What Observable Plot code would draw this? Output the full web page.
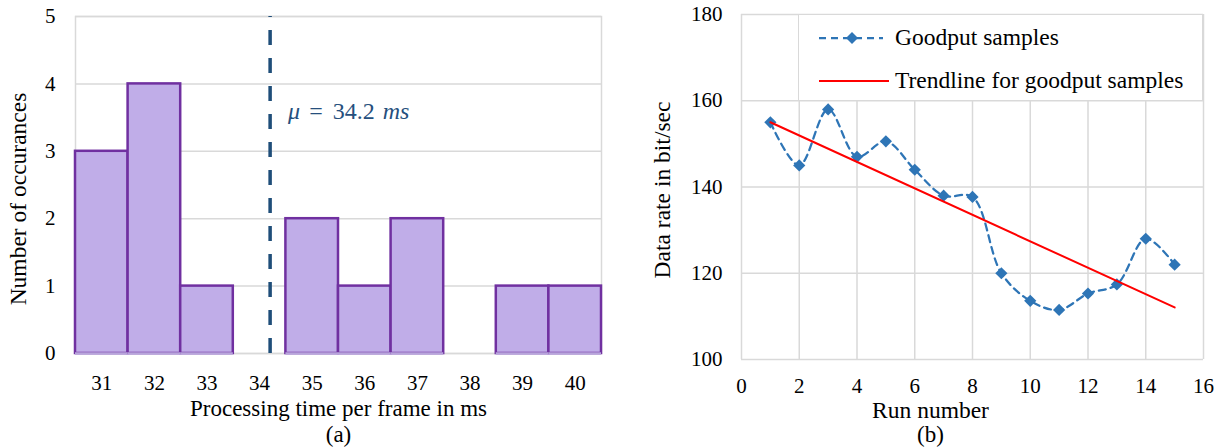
<!DOCTYPE html>
<html>
<head>
<meta charset="utf-8">
<script src="https://cdn.jsdelivr.net/npm/d3@7"></script>
<script src="https://cdn.jsdelivr.net/npm/@observablehq/plot@0.6"></script>
<style>
  html, body { margin: 0; padding: 0; background: #fff; }
  #wrap { position: relative; width: 1218px; height: 448px; overflow: hidden; font-family: "Liberation Serif", serif; }
  #wrap svg, #wrap svg text { font-family: "Liberation Serif", serif; }
  #wrap svg g[aria-label$="tick label"] { font-size: 21px; font-family: "Liberation Serif", serif; font-variant: normal; }
  #left, #right { position: absolute; top: 0; }
  #left { left: 0; }
  #right { left: 640px; }
  #legend { position: absolute; left: 798px; top: 14px; width: 405px; height: 87px; box-sizing: border-box;
            background: #fff; border: 1.5px solid #d9d9d9; }
  #legend svg { position: absolute; left: 0; top: 0; }
  .lg { position: absolute; left: 96px; font-size: 23.5px; line-height: 1; white-space: nowrap; color: #000; }
</style>
</head>
<body>
<div id="wrap">
  <div id="left"></div>
  <div id="right"></div>
  <div id="legend"></div>
</div>
<script>
// ---------- Data: panel (a) histogram ----------
const bins = [31, 32, 33, 34, 35, 36, 37, 38, 39, 40];
const counts = [3, 4, 1, 0, 2, 1, 2, 0, 1, 1];
const yTicksA = [0, 1, 2, 3, 4, 5];
const meanValue = 34.2;
const meanParts = ["μ", "=", "34.2", "ms"];
const xTitleA = "Processing time per frame in ms";
const yTitleA = "Number of occurances";
const captionA = "(a)";

// ---------- Data: panel (b) goodput ----------
const runs = [1, 2, 3, 4, 5, 6, 7, 8, 9, 10, 11, 12, 13, 14, 15];
const goodput = [155, 145, 158, 147, 150.6, 144, 138, 137.7, 120, 113.6, 111.5, 115.3, 117.4, 128, 122];
const xTicksB = [0, 2, 4, 6, 8, 10, 12, 14, 16];
const yTicksB = [100, 120, 140, 160, 180];
const xTitleB = "Run number";
const yTitleB = "Data rate in bit/sec";
const captionB = "(b)";
const legendLabels = ["Goodput samples", "Trendline for goodput samples"];

const histo = bins.map((b, i) => ({bin: b, count: counts[i]}));
const filled = histo.filter(d => d.count > 0);
const samples = runs.map((r, i) => ({run: r, rate: goodput[i]}));

const GRID = "#d9d9d9";
const SERIF = "Liberation Serif, serif";
const font = {fontFamily: SERIF, fontSize: "21px", color: "#000", background: "#fff", overflow: "visible"};

// ---------- Panel (a) ----------
const left = Plot.plot({
  width: 640, height: 448,
  marginLeft: 75, marginRight: 39, marginTop: 16, marginBottom: 95,
  style: font,
  x: {domain: [bins[0] - 0.5, bins[bins.length - 1] + 0.5]},
  y: {domain: [yTicksA[0], yTicksA[yTicksA.length - 1]]},
  marks: [
    Plot.gridY(yTicksA, {stroke: GRID, strokeOpacity: 1, strokeWidth: 1.5}),
    Plot.frame({stroke: GRID, strokeWidth: 1.5}),
    Plot.rectY(filled, {x1: d => d.bin - 0.5, x2: d => d.bin + 0.5, y: "count",
      fill: "#c0ade8", stroke: "#7030a0", strokeWidth: 2.5}),
    Plot.ruleY(filled, {x1: d => d.bin - 0.5, x2: d => d.bin + 0.5, y: 0, stroke: "#b8a5dc", strokeWidth: 2.5}),
    Plot.ruleX([meanValue], {stroke: "#1f4e79", strokeWidth: 3.5, strokeDasharray: "15,13", strokeDashoffset: 14}),
    Plot.text([meanParts.join(" ")], {x: meanValue, frameAnchor: "top", textAnchor: "start", lineAnchor: "middle",
      dx: 18, dy: 95, fill: "#264f7d", fontSize: 24, fontFamily: SERIF}),
    Plot.axisX(bins, {tickSize: 0, tickPadding: 22, label: null, fontSize: 21, fontFamily: SERIF, tickFormat: "d"}),
    Plot.axisY(yTicksA, {tickSize: 0, tickPadding: 20, label: null, fontSize: 21, fontFamily: SERIF, tickFormat: "d"}),
    Plot.text([xTitleA], {frameAnchor: "bottom", textAnchor: "middle", lineAnchor: "middle", dy: 55, fontSize: 23, fontFamily: SERIF}),
    Plot.text([captionA], {frameAnchor: "bottom", textAnchor: "middle", lineAnchor: "middle", dy: 81, fontSize: 23, fontFamily: SERIF}),
    Plot.text([yTitleA], {frameAnchor: "left", rotate: -90, textAnchor: "middle", lineAnchor: "middle", dx: -57, dy: 14, fontSize: 23.5, fontFamily: SERIF})
  ]
});
document.getElementById("left").appendChild(left);

// mixed italic / upright math label
const muEl = Array.from(left.querySelectorAll("text")).find(t => t.textContent === meanParts.join(" "));
if (muEl) {
  muEl.textContent = "";
  const gaps = [0, 9, 10, 8];
  meanParts.forEach((p, i) => {
    const ts = document.createElementNS("http://www.w3.org/2000/svg", "tspan");
    ts.textContent = p;
    if (i === 0 || i === 3) ts.setAttribute("font-style", "italic");
    if (gaps[i]) ts.setAttribute("dx", gaps[i]);
    muEl.appendChild(ts);
  });
}

// ---------- Panel (b) ----------
const BLUE = "#2e75b6";
const right = Plot.plot({
  width: 578, height: 448,
  marginLeft: 101, marginRight: 15, marginTop: 14, marginBottom: 89,
  style: font,
  x: {domain: [xTicksB[0], xTicksB[xTicksB.length - 1]]},
  y: {domain: [yTicksB[0], yTicksB[yTicksB.length - 1]]},
  marks: [
    Plot.gridX(xTicksB, {stroke: GRID, strokeOpacity: 1, strokeWidth: 1.5}),
    Plot.gridY(yTicksB, {stroke: GRID, strokeOpacity: 1, strokeWidth: 1.5}),
    Plot.line(samples, {x: "run", y: "rate", curve: "catmull-rom", stroke: BLUE, strokeWidth: 2.25, strokeDasharray: "7,5"}),
    Plot.dot(samples, {x: "run", y: "rate", symbol: "diamond2", fill: BLUE, stroke: "none", r: 5.5}),
    Plot.linearRegressionY(samples, {x: "run", y: "rate", stroke: "#ff0000", strokeWidth: 2, ci: 0}),
    Plot.axisX(xTicksB, {tickSize: 0, tickPadding: 19, label: null, fontSize: 21, fontFamily: SERIF, tickFormat: "d"}),
    Plot.axisY(yTicksB, {tickSize: 0, tickPadding: 19, label: null, fontSize: 21, fontFamily: SERIF, tickFormat: "d"}),
    Plot.text([xTitleB], {frameAnchor: "bottom", textAnchor: "middle", lineAnchor: "middle", dx: -42, dy: 51, fontSize: 23.5, fontFamily: SERIF}),
    Plot.text([captionB], {frameAnchor: "bottom", textAnchor: "middle", lineAnchor: "middle", dx: -42, dy: 75, fontSize: 23, fontFamily: SERIF}),
    Plot.text([yTitleB], {frameAnchor: "left", rotate: -90, textAnchor: "middle", lineAnchor: "middle", dx: -79, dy: 3, fontSize: 23.5, fontFamily: SERIF})
  ]
});
document.getElementById("right").appendChild(right);

// ---------- Legend (panel b) ----------
const lg = document.getElementById("legend");
lg.innerHTML =
  `<svg width="405" height="87">
     <line x1="20" x2="84" y1="23" y2="23" stroke="${BLUE}" stroke-width="2.25" stroke-dasharray="7,5"></line>
     <path d="M53,17L59,23L53,29L47,23Z" fill="${BLUE}"></path>
     <line x1="20" x2="90" y1="66" y2="66" stroke="#ff0000" stroke-width="2"></line>
   </svg>
   <div class="lg" style="top:11px">${legendLabels[0]}</div>
   <div class="lg" style="top:54px">${legendLabels[1]}</div>`;
</script>
</body>
</html>
